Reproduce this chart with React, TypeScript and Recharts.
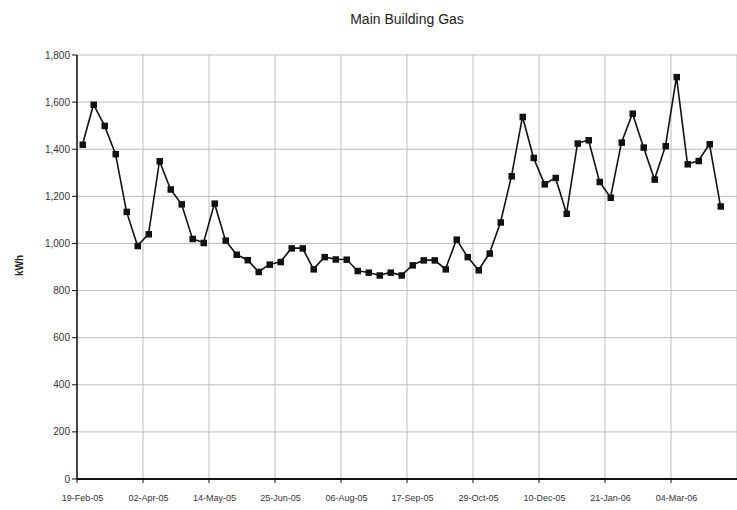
import { LineChart, Line, XAxis, YAxis, CartesianGrid } from 'recharts';

// Weekly gas readings, kWh
const kwhValues = [
  1420, 1590, 1500, 1380, 1135, 990, 1040, 1350, 1230, 1167,
  1020, 1003, 1170, 1013, 953, 930, 880, 911, 922, 980,
  980, 891, 943, 933, 932, 884, 877, 865, 877, 865,
  908, 929, 929, 891, 1017, 943, 887, 958, 1090, 1286,
  1538, 1364, 1252, 1279, 1127, 1425, 1439, 1262, 1195, 1429,
  1552, 1408, 1272, 1414, 1707, 1337, 1351, 1422, 1158,
];

// one label every 6 weeks
const tickLabels = [
  '19-Feb-05', '02-Apr-05', '14-May-05', '25-Jun-05', '06-Aug-05',
  '17-Sep-05', '29-Oct-05', '10-Dec-05', '21-Jan-06', '04-Mar-06',
];
const LABEL_STEP = 6;

const yTicks = [0, 200, 400, 600, 800, 1000, 1200, 1400, 1600, 1800];

const W = 737;
const H = 510;
const PLOT_LEFT = 77;
const SLOTS = 60;
const SLOT_PX = (W - PLOT_LEFT) / SLOTS;

const data = kwhValues.map((v, i) => ({ x: i + 0.5, kwh: v }));
const xTicks = tickLabels.map((_, i) => i * LABEL_STEP);

const FONT = '"Liberation Sans", Arial, sans-serif';

const DateTick = (props: any) => {
  const { x, y, payload } = props;
  const label = tickLabels[payload.value / LABEL_STEP];
  return (
    <text x={x + SLOT_PX / 2} y={y + 16} textAnchor="middle" fontSize={9} fill="#333" fontFamily={FONT}>
      {label}
    </text>
  );
};

const SquareDot = (props: any) => {
  const { cx, cy, index } = props;
  return <rect key={`d-${index}`} x={cx - 3} y={cy - 3} width={6.5} height={6.5} fill="#111" />;
};

export default function App() {
  return (
    <div style={{ position: 'absolute', left: 0, top: 0, width: W, height: H, background: '#fff', fontFamily: FONT }}>
      <div style={{ position: 'absolute', left: PLOT_LEFT, width: W - PLOT_LEFT, top: 11, textAlign: 'center', fontSize: 14, color: '#222' }}>
        Main Building Gas
      </div>
      <div style={{ position: 'absolute', left: 19 - 20, top: 260, width: 40, textAlign: 'center', fontSize: 10, fontWeight: 'bold', color: '#222', transform: 'rotate(-90deg)' }}>
        kWh
      </div>
      <LineChart width={W} height={H} data={data} margin={{ top: 55, right: 0, left: 17, bottom: 7 }}>
        <CartesianGrid stroke="#bcbcbc" strokeWidth={1} />
        <XAxis
          dataKey="x"
          type="number"
          domain={[0, SLOTS]}
          ticks={xTicks}
          interval={0}
          height={24}
          tick={<DateTick />}
          tickSize={4}
          tickLine={{ stroke: '#111' }}
          axisLine={{ stroke: '#111', strokeWidth: 2 }}
        />
        <YAxis
          domain={[0, 1800]}
          ticks={yTicks}
          interval={0}
          width={60}
          tickSize={5}
          tickFormatter={(v: number) => v.toLocaleString('en-US')}
          tick={{ fontSize: 10, fill: '#333', fontFamily: FONT }}
          tickLine={{ stroke: '#111' }}
          axisLine={{ stroke: '#111', strokeWidth: 1.5 }}
        />
        <Line
          type="linear"
          dataKey="kwh"
          stroke="#111"
          strokeWidth={1.6}
          dot={SquareDot}
          activeDot={false}
          isAnimationActive={false}
        />
      </LineChart>
    </div>
  );
}
